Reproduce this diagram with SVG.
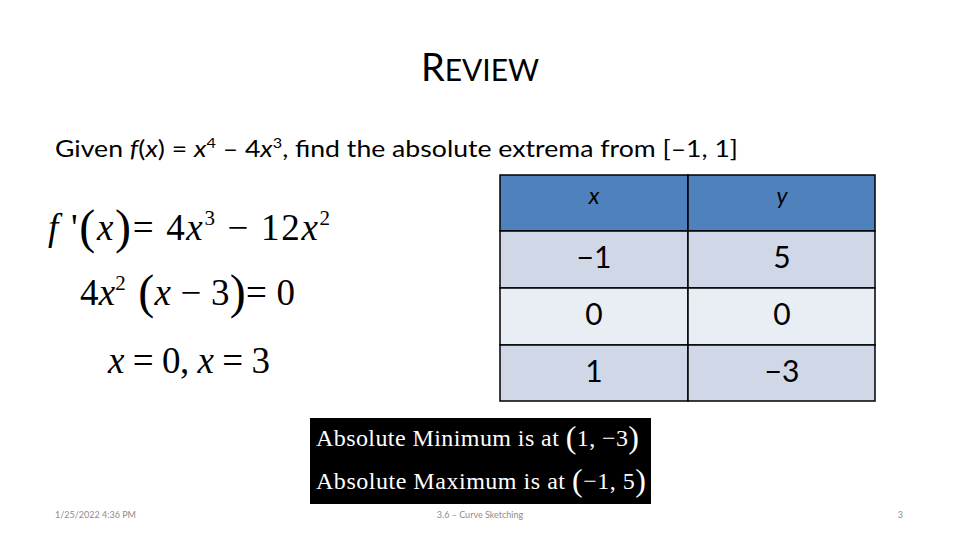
<svg xmlns="http://www.w3.org/2000/svg" width="960" height="540" viewBox="0 0 960 540">
<style>
.c{font-family:Lato,"Open Sans","Liberation Sans",sans-serif;fill:#000}
.m{font-family:"Liberation Serif","Times New Roman",serif;fill:#000}
.cell{stroke:#000;stroke-width:1.5}
.ft{font-family:Lato,"Liberation Sans",sans-serif;font-size:9px;fill:#8c8c8c}
</style>
<rect width="960" height="540" fill="#fff"/>
<g id="title"><text class="c" x="480" y="81" text-anchor="middle" font-size="38"><tspan>R</tspan><tspan font-size="30">EVIEW</tspan></text></g>
<g id="prompt"><text class="c" x="55" y="157" font-size="23" textLength="683" lengthAdjust="spacingAndGlyphs">Given <tspan font-style="italic">f</tspan>(<tspan font-style="italic">x</tspan>) = <tspan font-style="italic">x</tspan><tspan font-size="14" dy="-9">4</tspan><tspan dy="9"> – 4</tspan><tspan font-style="italic">x</tspan><tspan font-size="14" dy="-9">3</tspan><tspan dy="9">, find the absolute extrema from [–1, 1]</tspan></text></g>
<g id="work">
<text class="m" x="48" y="240" font-size="37" textLength="282" lengthAdjust="spacing"><tspan font-style="italic">f</tspan> '<tspan font-size="48" dy="3">(</tspan><tspan font-style="italic" dy="-3">x</tspan><tspan font-size="48" dy="3">)</tspan><tspan dy="-3">= 4</tspan><tspan font-style="italic">x</tspan><tspan font-size="21" dy="-15">3</tspan><tspan dy="15"> − 12</tspan><tspan font-style="italic">x</tspan><tspan font-size="21" dy="-15">2</tspan></text>
<text class="m" x="80" y="305" font-size="37" textLength="215" lengthAdjust="spacing">4<tspan font-style="italic">x</tspan><tspan font-size="21" dy="-15">2</tspan><tspan font-size="48" dy="18"> (</tspan><tspan font-style="italic" dy="-3">x</tspan><tspan> − 3</tspan><tspan font-size="48" dy="3">)</tspan><tspan dy="-3">= 0</tspan></text>
<text class="m" x="108" y="373" font-size="37" textLength="162" lengthAdjust="spacing"><tspan font-style="italic">x</tspan> = 0, <tspan font-style="italic">x</tspan> = 3</text>
</g>
<g id="table">
<rect class="cell" x="500" y="175" width="188" height="56" fill="#4f81bd"/>
<rect class="cell" x="688" y="175" width="187" height="56" fill="#4f81bd"/>
<rect class="cell" x="500" y="231" width="188" height="57" fill="#d0d8e8"/>
<rect class="cell" x="688" y="231" width="187" height="57" fill="#d0d8e8"/>
<rect class="cell" x="500" y="288" width="188" height="57" fill="#e9edf4"/>
<rect class="cell" x="688" y="288" width="187" height="57" fill="#e9edf4"/>
<rect class="cell" x="500" y="345" width="188" height="56" fill="#d0d8e8"/>
<rect class="cell" x="688" y="345" width="187" height="56" fill="#d0d8e8"/>
<text class="c" x="594" y="204" text-anchor="middle" font-size="23" font-style="italic">x</text>
<text class="c" x="782" y="204" text-anchor="middle" font-size="23" font-style="italic">y</text>
<g font-size="30" text-anchor="middle">
<text class="c" x="594" y="268">−1</text><text class="c" x="782" y="268">5</text>
<text class="c" x="594" y="325">0</text><text class="c" x="782" y="325">0</text>
<text class="c" x="594" y="382">1</text><text class="c" x="782" y="382">−3</text>
</g>
</g>
<g id="answer">
<rect x="310" y="418" width="341" height="86" fill="#000"/>
<text class="m" x="316" y="446" font-size="24" style="fill:#fff" textLength="323" lengthAdjust="spacing">Absolute Minimum is at <tspan font-size="32" dy="2">(</tspan><tspan dy="-2">1, −3</tspan><tspan font-size="32" dy="2">)</tspan></text>
<text class="m" x="316" y="489" font-size="24" style="fill:#fff" textLength="330" lengthAdjust="spacing">Absolute Maximum is at <tspan font-size="32" dy="2">(</tspan><tspan dy="-2">−1, 5</tspan><tspan font-size="32" dy="2">)</tspan></text>
</g>
<g id="footer">
<text class="ft" x="55" y="518">1/25/2022 4:36 PM</text>
<text class="ft" x="480" y="518" text-anchor="middle">3.6 – Curve Sketching</text>
<text class="ft" x="903" y="518" text-anchor="end">3</text>
</g>
</svg>
